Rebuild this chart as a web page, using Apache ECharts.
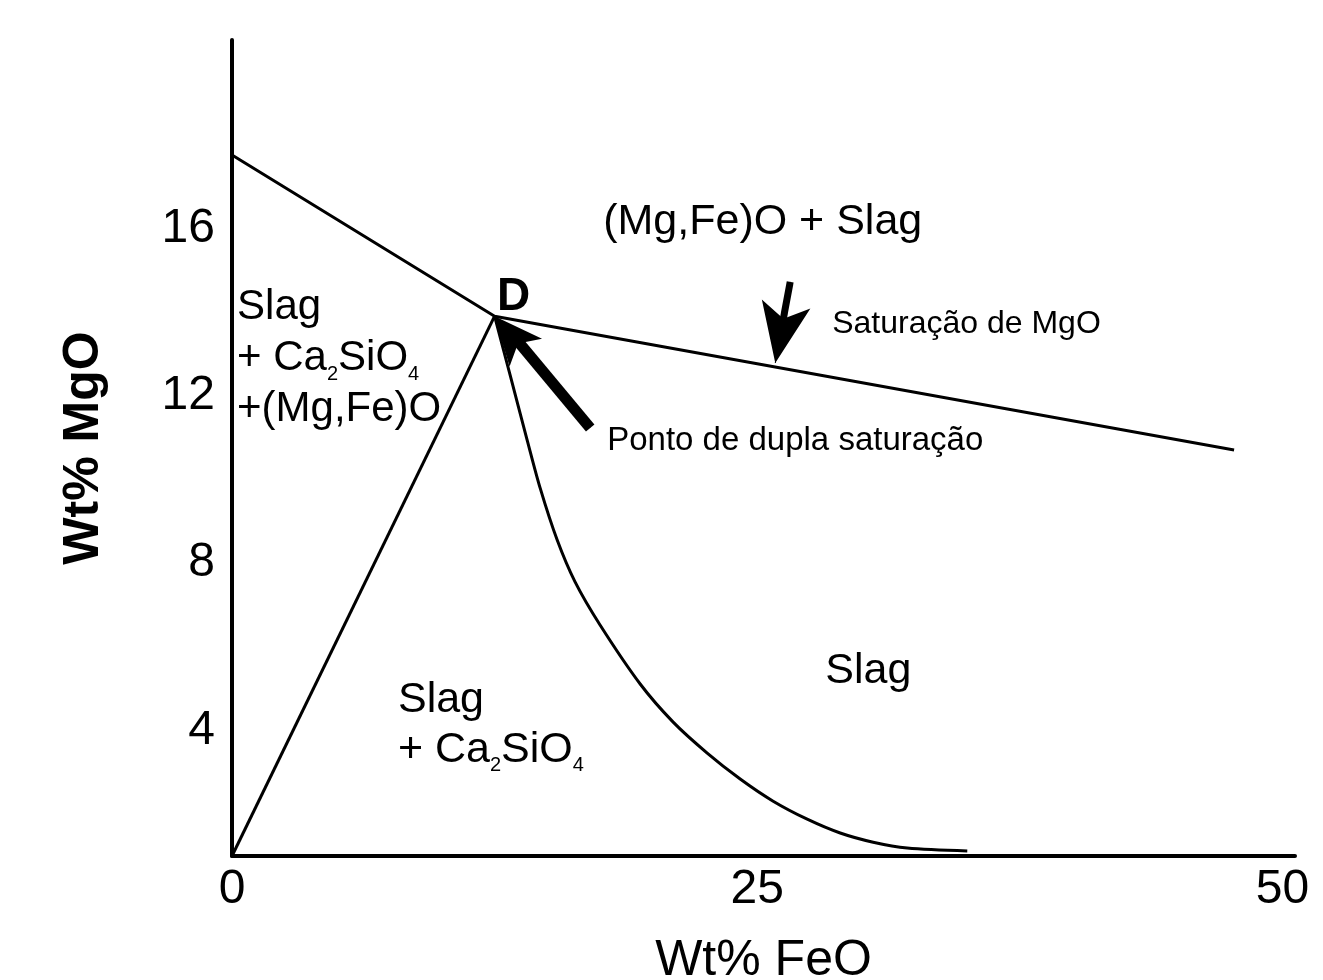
<!DOCTYPE html>
<html>
<head>
<meta charset="utf-8">
<script src="https://cdn.jsdelivr.net/npm/echarts@6/dist/echarts.min.js"></script>
<style>html,body{margin:0;padding:0;background:#fff;}#c{width:1323px;height:980px;}</style>
</head>
<body>
<div id="c"></div>
<script>
// ---- data ----
const xTicks = [0, 25, 50];
const yTicks = [4, 8, 12, 16];
const pointD = [12.5, 13.9];
const mgoSaturationLine = [[0, 17.75], [12.5, 13.9], [47.7, 10.7]];
const ca2sio4Line = [[0, 1.0], [12.5, 13.9]];
const slagCurve = [[12.5, 13.9], [13.24, 12.49], [14.05, 10.94], [14.67, 9.79], [15.48, 8.55],
  [16.33, 7.55], [17.52, 6.52], [19.43, 5.11], [21.0, 4.2], [22.62, 3.46], [24.19, 2.84],
  [25.76, 2.31], [27.38, 1.88], [28.95, 1.55], [30.52, 1.33], [32.14, 1.19], [35.0, 1.12]];
// annotation anchors (data coordinates)
const arrowDoubleSatTail = [17.05, 11.23];
const arrowDoubleSatHeadMid = [13.33, 13.47];
const arrowMgOSatTail = [26.57, 14.72];
const arrowMgOSatHeadMid = [26.12, 13.5];
const arrowMgOSatTip = [25.86, 12.78];
const labelMgFeSlag = [17.67, 16.15];
const labelD = [12.62, 14.36];
const labelSatMgO = [28.57, 13.7];
const labelPonto = [17.86, 10.93];
const labelSlagRight = [28.24, 5.42];
const labelLeftStack = [0.24, 12.88];
const labelLowerStack = [7.9, 4.13];

const FONT = '"Liberation Sans", Arial, Helvetica, sans-serif';
const INK = '#000';
const sub = { fontSize: 20, lineHeight: 20, verticalAlign: 'bottom', color: INK, fontFamily: FONT };

const chart = echarts.init(document.getElementById('c'), null, { renderer: 'canvas' });
chart.setOption({
  animation: false,
  backgroundColor: '#fff',
  grid: { left: 232, top: 40, right: 28, bottom: 124, containLabel: false, outerBoundsMode: 'none' },
  xAxis: {
    type: 'value', min: 0, max: 50.6,
    name: 'Wt% FeO', nameLocation: 'middle', nameGap: 80,
    nameTextStyle: { fontSize: 50, color: INK, fontFamily: FONT },
    axisLine: { show: true, onZero: false, lineStyle: { color: INK, width: 4 } },
    axisTick: { show: false },
    splitLine: { show: false },
    axisLabel: { customValues: xTicks, fontSize: 48, color: INK, fontFamily: FONT, margin: 10 }
  },
  yAxis: {
    type: 'value', min: 1, max: 20.5,
    name: 'Wt% MgO', nameLocation: 'middle', nameGap: 123, nameRotate: 90,
    nameTextStyle: { fontSize: 50, fontWeight: 'bold', color: INK, fontFamily: FONT },
    axisLine: { show: true, onZero: false, lineStyle: { color: INK, width: 4 } },
    axisTick: { show: false },
    splitLine: { show: false },
    axisLabel: { customValues: yTicks, fontSize: 48, color: INK, fontFamily: FONT, margin: 17 }
  },
  series: [
    { type: 'line', data: mgoSaturationLine, symbol: 'none', lineStyle: { color: INK, width: 3 }, silent: true },
    { type: 'line', data: ca2sio4Line, symbol: 'none', lineStyle: { color: INK, width: 3 }, silent: true },
    { type: 'line', data: slagCurve, symbol: 'none', smooth: 0.3, lineStyle: { color: INK, width: 3 }, silent: true },
    {
      type: 'scatter', symbolSize: 0, silent: true,
      itemStyle: { opacity: 1, color: INK },
      label: { show: true, position: 'right', distance: 0, color: INK, fontFamily: FONT, opacity: 1 },
      data: [
        { value: labelMgFeSlag, label: { formatter: '(Mg,Fe)O + Slag', fontSize: 43 } },
        { value: labelD, label: { formatter: 'D', fontSize: 46, fontWeight: 'bold' } },
        { value: labelSatMgO, label: { formatter: 'Saturação de MgO', fontSize: 32 } },
        { value: labelPonto, label: { formatter: 'Ponto de dupla saturação', fontSize: 33 } },
        { value: labelSlagRight, label: { formatter: 'Slag', fontSize: 43 } },
        { value: labelLeftStack, label: { formatter: 'Slag\n+ Ca{sub|2}SiO{sub|4}\n+(Mg,Fe)O', fontSize: 42, lineHeight: 51, rich: { sub: sub } } },
        { value: labelLowerStack, label: { formatter: 'Slag\n+ Ca{sub|2}SiO{sub|4}', fontSize: 43, lineHeight: 50, rich: { sub: sub } } }
      ],
      markLine: {
        silent: true, animation: false,
        symbol: ['none', 'none'],
        label: { show: false },
        lineStyle: { type: 'solid', color: INK, opacity: 1 },
        data: [
          // shafts
          [ { coord: arrowDoubleSatTail, lineStyle: { width: 11, type: 'solid', color: INK, opacity: 1 } },
            { coord: arrowDoubleSatHeadMid } ],
          [ { coord: arrowMgOSatTail, lineStyle: { width: 7, type: 'solid', color: INK, opacity: 1 } },
            { coord: arrowMgOSatHeadMid } ],
          // heads (tip at end point)
          [ { coord: arrowDoubleSatTail, lineStyle: { width: 1, type: 'solid', color: INK, opacity: 1 } },
            { coord: pointD, symbol: 'arrow', symbolSize: [32, 48] } ],
          [ { coord: arrowMgOSatTail, lineStyle: { width: 1, type: 'solid', color: INK, opacity: 1 } },
            { coord: arrowMgOSatTip, symbol: 'arrow', symbolSize: [37, 60] } ]
        ]
      }
    }
  ]
});
</script>
</body>
</html>
